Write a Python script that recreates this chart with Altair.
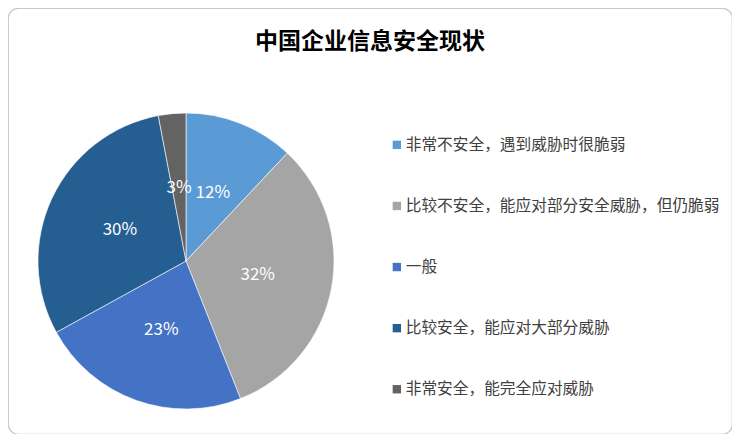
import altair as alt
import pandas as pd

categories = [
    "非常不安全，遇到威胁时很脆弱",
    "比较不安全，能应对部分安全威胁，但仍脆弱",
    "一般",
    "比较安全，能应对大部分威胁",
    "非常安全，能完全应对威胁",
]
values = [12, 32, 23, 30, 3]
labels = ["12%", "32%", "23%", "30%", "3%"]
colors = ["#5B9BD5", "#A5A5A5", "#4472C4", "#255E91", "#636363"]

df = pd.DataFrame({
    "category": categories,
    "value": values,
    "label": labels,
    "order": list(range(len(categories))),
})

FONT = "Noto Sans CJK SC"
cx, cy = 178, 253

base = alt.Chart(df).encode(
    theta=alt.Theta("value:Q", stack=True),
    order=alt.Order("order:Q"),
    x=alt.value(cx),
    y=alt.value(cy),
)

arcs = base.mark_arc(outerRadius=148, stroke="white", strokeWidth=0.6).encode(
    color=alt.Color(
        "category:N",
        sort=categories,
        scale=alt.Scale(domain=categories, range=colors),
        legend=alt.Legend(
            title=None,
            orient="none",
            legendX=381,
            legendY=129,
            symbolType="square",
            symbolSize=70,
            symbolStrokeWidth=0,
            labelFont=FONT,
            labelFontSize=15.7,
            labelColor="#404040",
            labelLimit=400,
            rowPadding=44.1,
            padding=0,
            labelOffset=1,
        ),
    )
)

texts = base.mark_text(radius=73, font=FONT, fontSize=17, color="white").encode(
    text="label:N"
)

chart = (
    alt.layer(arcs, texts)
    .properties(
        width=724,
        height=426,
        autosize=alt.AutoSizeParams(type="none"),
        padding=0,
        title=alt.TitleParams(
            "中国企业信息安全现状",
            font=FONT,
            fontSize=23,
            fontWeight="bold",
            color="#000000",
            anchor="middle",
            baseline="middle",
            offset=-26,
            dy=31,
        ),
    )
    .configure_view(stroke="#C8C8C8", strokeWidth=1.2, cornerRadius=10)
)

chart.save("out.html", embed_options={"renderer": "svg", "actions": False})
